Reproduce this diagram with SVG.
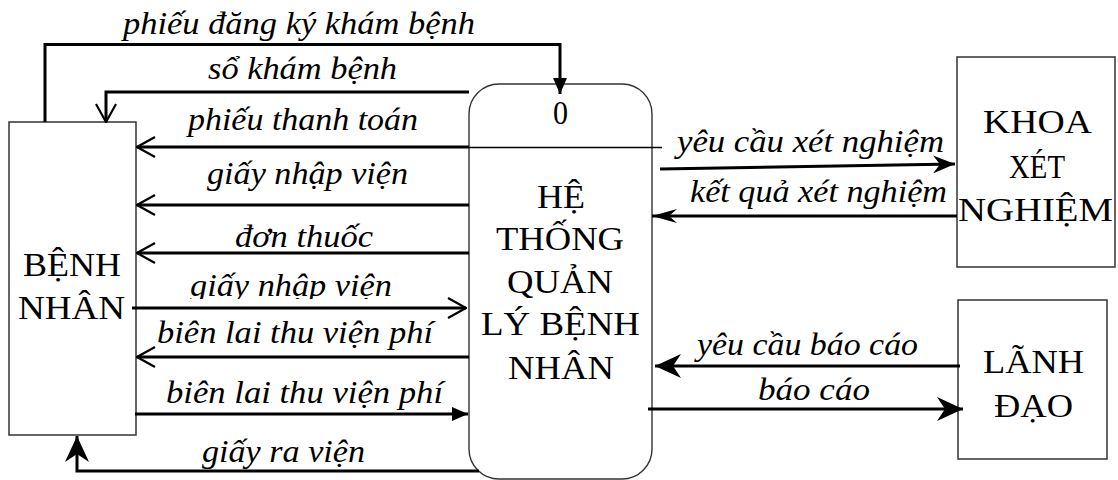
<svg xmlns="http://www.w3.org/2000/svg" width="1118" height="480" viewBox="0 0 1118 480">
<style>
.box{fill:#fff;stroke:#333;stroke-width:1.5}
.proc{fill:#fff;stroke:#333;stroke-width:1.4}
.t{font-family:"Liberation Serif","Times New Roman",serif;font-size:34px;fill:#000}
.l{font-family:"Liberation Serif","Times New Roman",serif;font-size:32px;font-style:italic;fill:#000}
.c{fill:none;stroke:#000;stroke-width:3}
</style>
<defs>
<marker id="open" viewBox="0 0 20 22" refX="19" refY="11" markerWidth="20" markerHeight="22" orient="auto" markerUnits="userSpaceOnUse"><path d="M1,1 L19,11 L1,21" fill="none" stroke="#000" stroke-width="2.2"/></marker>
<marker id="tri" viewBox="0 0 16 14" refX="16" refY="7" markerWidth="16" markerHeight="14" orient="auto" markerUnits="userSpaceOnUse"><path d="M0,0 L16,7 L0,14 z" fill="#000"/></marker>
<marker id="barbL" viewBox="0 0 26 24" refX="26" refY="12" markerWidth="26" markerHeight="24" orient="auto" markerUnits="userSpaceOnUse"><path d="M0,0 L26,12 L0,24 L8,12 z" fill="#000"/></marker>
<marker id="barbS" viewBox="0 0 22 18" refX="22" refY="9" markerWidth="22" markerHeight="18" orient="auto" markerUnits="userSpaceOnUse"><path d="M0,0 L22,9 L0,18 L7,9 z" fill="#000"/></marker>
<marker id="barbT" viewBox="0 0 25 14" refX="25" refY="7" markerWidth="25" markerHeight="14" orient="auto" markerUnits="userSpaceOnUse"><path d="M0,0 L25,7 L0,14 L8,7 z" fill="#000"/></marker>
<clipPath id="clipG"><rect x="150" y="260" width="300" height="39"/></clipPath>
</defs>

<g id="benh-nhan">
<rect class="box" x="9" y="122" width="127" height="313"/>
<text class="t" x="23" y="276" textLength="98" lengthAdjust="spacingAndGlyphs">BỆNH</text>
<text class="t" x="18" y="319" textLength="107" lengthAdjust="spacingAndGlyphs">NHÂN</text>
</g>

<g id="he-thong">
<rect class="proc" x="469" y="84" width="183" height="395" rx="30" ry="30"/>
<line x1="469" y1="147.5" x2="662" y2="147.5" stroke="#000" stroke-width="1.4"/>
<text class="t" x="553" y="124" textLength="15" lengthAdjust="spacingAndGlyphs">0</text>
<text class="t" x="537" y="208" textLength="48" lengthAdjust="spacingAndGlyphs">HỆ</text>
<text class="t" x="496" y="250" textLength="128" lengthAdjust="spacingAndGlyphs">THỐNG</text>
<text class="t" x="507" y="293" textLength="106" lengthAdjust="spacingAndGlyphs">QUẢN</text>
<text class="t" x="481" y="335" textLength="159" lengthAdjust="spacingAndGlyphs">LÝ BỆNH</text>
<text class="t" x="508" y="379" textLength="106" lengthAdjust="spacingAndGlyphs">NHÂN</text>
</g>

<g id="khoa-xet-nghiem">
<rect class="box" x="957" y="57" width="158" height="210"/>
<text class="t" x="983" y="133" textLength="109" lengthAdjust="spacingAndGlyphs">KHOA</text>
<text class="t" x="1009" y="178" textLength="56" lengthAdjust="spacingAndGlyphs">XÉT</text>
<text class="t" x="958" y="221" textLength="155" lengthAdjust="spacingAndGlyphs">NGHIỆM</text>
</g>

<g id="lanh-dao">
<rect class="box" x="958" y="300" width="149" height="159"/>
<text class="t" x="983" y="373" textLength="101" lengthAdjust="spacingAndGlyphs">LÃNH</text>
<text class="t" x="994" y="417" textLength="79" lengthAdjust="spacingAndGlyphs">ĐẠO</text>
</g>

<g id="connectors">
<polyline class="c" points="45,122 45,44.5 560,44.5 560,94" marker-end="url(#tri)"/>
<polyline class="c" points="469,92 106,92 106,122" marker-end="url(#open)"/>
<line class="c" x1="469" y1="147" x2="137" y2="147" marker-end="url(#open)"/>
<line class="c" x1="469" y1="205" x2="137" y2="205" marker-end="url(#open)"/>
<line class="c" x1="469" y1="253" x2="137" y2="253" marker-end="url(#open)"/>
<line class="c" x1="132" y1="308" x2="466" y2="308" marker-end="url(#open)"/>
<line class="c" x1="469" y1="357" x2="137" y2="357" marker-end="url(#open)"/>
<line class="c" x1="135" y1="414" x2="468" y2="414" marker-end="url(#tri)"/>
<polyline class="c" points="479,471 77,471 77,436" marker-end="url(#barbL)"/>
<line class="c" x1="660" y1="169" x2="955" y2="164" marker-end="url(#barbS)"/>
<line class="c" x1="957" y1="216" x2="652" y2="216" marker-end="url(#barbT)"/>
<line class="c" x1="960" y1="366" x2="655" y2="366" marker-end="url(#barbL)"/>
<line class="c" x1="648" y1="409" x2="963" y2="409" marker-end="url(#barbL)"/>

<text class="l" x="123" y="34" textLength="352" lengthAdjust="spacingAndGlyphs">phiếu đăng ký khám bệnh</text>
<text class="l" x="208" y="79" textLength="189" lengthAdjust="spacingAndGlyphs">sổ khám bệnh</text>
<text class="l" x="188" y="130" textLength="230" lengthAdjust="spacingAndGlyphs">phiếu thanh toán</text>
<text class="l" x="207" y="184" textLength="201" lengthAdjust="spacingAndGlyphs">giấy nhập viện</text>
<text class="l" x="235" y="247" textLength="138" lengthAdjust="spacingAndGlyphs">đơn thuốc</text>
<text class="l" x="190" y="296" textLength="202" lengthAdjust="spacingAndGlyphs" clip-path="url(#clipG)">giấy nhập viện</text>
<text class="l" x="157" y="343" textLength="276" lengthAdjust="spacingAndGlyphs">biên lai thu viện phí</text>
<text class="l" x="166" y="403" textLength="277" lengthAdjust="spacingAndGlyphs">biên lai thu viện phí</text>
<text class="l" x="202" y="462" textLength="163" lengthAdjust="spacingAndGlyphs">giấy ra viện</text>
<text class="l" x="677" y="152" textLength="267" lengthAdjust="spacingAndGlyphs">yêu cầu xét nghiệm</text>
<text class="l" x="690" y="202" textLength="257" lengthAdjust="spacingAndGlyphs">kết quả xét nghiệm</text>
<text class="l" x="697" y="355" textLength="221" lengthAdjust="spacingAndGlyphs">yêu cầu báo cáo</text>
<text class="l" x="758" y="400" textLength="112" lengthAdjust="spacingAndGlyphs">báo cáo</text>
</g>
</svg>
